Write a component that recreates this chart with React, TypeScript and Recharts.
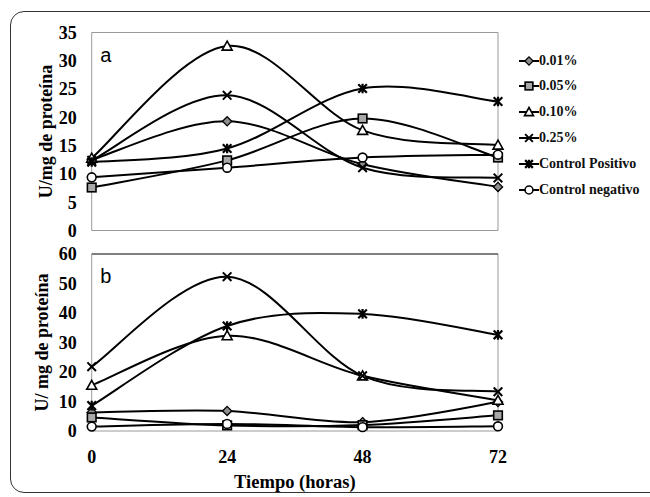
import React from 'react';
import { LineChart, Line, XAxis, YAxis, ReferenceArea, ReferenceLine, Legend } from 'recharts';

// ---- data ----
const times = [0, 24, 48, 72];
const seriesNames = ['0.01%', '0.05%', '0.10%', '0.25%', 'Control Positivo', 'Control negativo'];
const seriesKeys = ['s001', 's005', 's010', 's025', 'pos', 'neg'];
const seriesMarkers = ['diamond', 'square', 'triangle', 'x', 'star', 'circle'];

// panel a
const a001 = [12.5, 19.3, 11.7, 7.7];
const a005 = [7.6, 12.4, 19.8, 12.9];
const a010 = [12.8, 32.6, 17.7, 15.1];
const a025 = [12.4, 23.9, 11.1, 9.3];
const aPos = [12.1, 14.5, 25.1, 22.8];
const aNeg = [9.4, 11.1, 12.9, 13.4];

// panel b
const b001 = [6.3, 6.8, 3.0, 9.8];
const b005 = [4.6, 1.9, 2.0, 5.3];
const b010 = [15.5, 32.3, 18.7, 10.4];
const b025 = [21.8, 52.3, 18.7, 13.3];
const bPos = [8.6, 35.6, 39.7, 32.6];
const bNeg = [1.5, 2.4, 1.3, 1.6];

const aTicks = [0, 5, 10, 15, 20, 25, 30, 35];
const bTicks = [0, 10, 20, 30, 40, 50, 60];
const xTicks = [0, 24, 48, 72];

const aSeries = [a001, a005, a010, a025, aPos, aNeg];
const bSeries = [b001, b005, b010, b025, bPos, bNeg];

function buildRows(series: number[][]) {
  return times.map((t, i) => {
    const row: any = { t };
    seriesKeys.forEach((k, j) => {
      row[k] = series[j][i];
    });
    return row;
  });
}
const aRows = buildRows(aSeries);
const bRows = buildRows(bSeries);

// Excel-like smooth curve (Catmull-Rom as cubic Bezier)
function excelSmooth(context: any) {
  let pts: number[][] = [];
  return {
    areaStart() {},
    areaEnd() {},
    lineStart() {
      pts = [];
    },
    lineEnd() {
      const n = pts.length;
      if (n === 0) return;
      context.moveTo(pts[0][0], pts[0][1]);
      for (let i = 0; i < n - 1; i++) {
        const p0 = pts[i > 0 ? i - 1 : i];
        const p1 = pts[i];
        const p2 = pts[i + 1];
        const p3 = pts[i + 2 < n ? i + 2 : i + 1];
        context.bezierCurveTo(
          p1[0] + (p2[0] - p0[0]) / 6,
          p1[1] + (p2[1] - p0[1]) / 6,
          p2[0] - (p3[0] - p1[0]) / 6,
          p2[1] - (p3[1] - p1[1]) / 6,
          p2[0],
          p2[1]
        );
      }
    },
    point(x: number, y: number) {
      pts.push([+x, +y]);
    },
  };
}

const SERIF = '"Liberation Serif", "Times New Roman", serif';
const SANS = '"Liberation Sans", Arial, sans-serif';

function Marker({ kind, cx, cy, s = 1 }: { kind: string; cx: number; cy: number; s?: number }) {
  if (cx == null || cy == null || isNaN(cx) || isNaN(cy)) return null;
  switch (kind) {
    case 'diamond': {
      const r = 4.6 * s;
      return (
        <polygon
          points={`${cx},${cy - r} ${cx + r},${cy} ${cx},${cy + r} ${cx - r},${cy}`}
          fill="#8c8c8c"
          stroke="#000"
          strokeWidth={1.3}
        />
      );
    }
    case 'square': {
      const h = 4.3 * s;
      return <rect x={cx - h} y={cy - h} width={2 * h} height={2 * h} fill="#a8a8a8" stroke="#000" strokeWidth={1.6} />;
    }
    case 'triangle': {
      const r = 5 * s;
      return (
        <polygon
          points={`${cx},${cy - r} ${cx + r},${cy + r * 0.8} ${cx - r},${cy + r * 0.8}`}
          fill="#fff"
          stroke="#000"
          strokeWidth={1.6}
        />
      );
    }
    case 'x': {
      const r = 4.3 * s;
      return (
        <path
          d={`M${cx - r},${cy - r}L${cx + r},${cy + r}M${cx + r},${cy - r}L${cx - r},${cy + r}`}
          stroke="#000"
          strokeWidth={2}
          fill="none"
        />
      );
    }
    case 'star': {
      const r = 4.3 * s;
      return (
        <path
          d={`M${cx - r},${cy - r}L${cx + r},${cy + r}M${cx + r},${cy - r}L${cx - r},${cy + r}M${cx},${cy - r - 0.5}L${cx},${cy + r + 0.5}`}
          stroke="#000"
          strokeWidth={2.2}
          fill="none"
        />
      );
    }
    case 'circle':
    default:
      return <circle cx={cx} cy={cy} r={4.4 * s} fill="#fff" stroke="#000" strokeWidth={1.6} />;
  }
}

function makeDot(kind: string) {
  return (props: any) => (
    <g key={`${kind}-${props.index}`}>
      <Marker kind={kind} cx={props.cx} cy={props.cy} />
    </g>
  );
}

function yLabel(text: string, dx: number) {
  return (props: any) => {
    const vb = props.viewBox || {};
    const x = (vb.x || 0) + dx;
    const y = (vb.y || 0) + (vb.height || 0) / 2;
    return (
      <text
        x={x}
        y={y}
        transform={`rotate(-90, ${x}, ${y})`}
        textAnchor="middle"
        dominantBaseline="central"
        fontFamily={SERIF}
        fontWeight={700}
        fontSize={18}
        fill="#000"
      >
        {text}
      </text>
    );
  };
}

function panelLabel(text: string) {
  return (props: any) => {
    const vb = props.viewBox || {};
    return (
      <text x={(vb.x || 0) + 8.5} y={(vb.y || 0) + 29} fontFamily={SANS} fontSize={20} fill="#000">
        {text}
      </text>
    );
  };
}

function xLabel(text: string) {
  return (props: any) => {
    const vb = props.viewBox || {};
    return (
      <text
        x={(vb.x || 0) + (vb.width || 0) / 2}
        y={(vb.y || 0) + 56.5}
        textAnchor="middle"
        fontFamily={SERIF}
        fontWeight={700}
        fontSize={18.5}
        fill="#000"
      >
        {text}
      </text>
    );
  };
}

const legendContent = () => (
  <div style={{ width: 130 }}>
    {seriesNames.map((name, i) => (
      <div key={name} style={{ display: 'flex', alignItems: 'center', height: 25.8 }}>
        <svg width={20} height={14} style={{ display: 'block' }}>
          <line x1={0} y1={7} x2={20} y2={7} stroke="#000" strokeWidth={2} />
          <Marker kind={seriesMarkers[i]} cx={10} cy={7} s={0.9} />
        </svg>
        <span style={{ fontFamily: SERIF, fontWeight: 700, fontSize: 14, color: '#111', whiteSpace: 'nowrap' }}>
          {name}
        </span>
      </div>
    ))}
  </div>
);

const tickStyle = { fontFamily: SERIF, fontWeight: 700, fontSize: 18, fill: '#000' };
const xTickStyle = { fontFamily: SERIF, fontWeight: 700, fontSize: 18, fill: '#000' };

function renderLines() {
  return seriesKeys.map((k, i) => (
    <Line
      key={k}
      dataKey={k}
      name={seriesNames[i]}
      type={excelSmooth as any}
      stroke="#000"
      strokeWidth={2}
      dot={makeDot(seriesMarkers[i])}
      activeDot={false}
      isAnimationActive={false}
      legendType="none"
    />
  ));
}

export default function App() {
  return (
    <div
      style={{
        position: 'absolute',
        left: 0,
        top: 0,
        width: 650,
        height: 497,
        overflow: 'hidden',
        background: '#fff',
      }}
    >
      <div
        style={{
          position: 'absolute',
          left: 10,
          top: 11,
          width: 700,
          height: 480,
          border: '1.5px solid #333',
          borderRadius: 14,
        }}
      />
      <div style={{ position: 'absolute', left: 0, top: 0 }}>
        <LineChart width={650} height={250} data={aRows} margin={{ top: 32.5, right: 152, bottom: 19.5, left: 0 }}>
          <XAxis type="number" dataKey="t" domain={[0, 72]} ticks={xTicks} hide />
          <YAxis
            type="number"
            domain={[0, 35]}
            ticks={aTicks}
            interval={0}
            width={91.7}
            axisLine={false}
            tickLine={false}
            tickSize={0}
            tickMargin={15}
            tick={tickStyle}
            label={yLabel('U/mg de proteína', 46)}
          />
          <ReferenceArea
            x1={0}
            x2={72}
            y1={0}
            y2={35}
            fill="none"
            stroke="#9a9a9a"
            strokeWidth={1}
            label={panelLabel('a')}
          />
          {renderLines()}
          <Legend
            layout="vertical"
            align="center"
            verticalAlign="middle"
            content={legendContent}
            wrapperStyle={{ left: 519, top: 47.8, width: 130 }}
          />
        </LineChart>
      </div>
      <div style={{ position: 'absolute', left: 0, top: 240 }}>
        <LineChart width={650} height={257} data={bRows} margin={{ top: 14, right: 152, bottom: 0, left: 0 }}>
          <XAxis
            type="number"
            dataKey="t"
            domain={[0, 72]}
            ticks={xTicks}
            interval={0}
            height={66}
            axisLine={false}
            tickLine={false}
            tickSize={0}
            tickMargin={19}
            tick={xTickStyle}
            label={xLabel('Tiempo (horas)')}
          />
          <YAxis
            type="number"
            domain={[0, 60]}
            ticks={bTicks}
            interval={0}
            width={91.7}
            axisLine={false}
            tickLine={false}
            tickSize={0}
            tickMargin={15}
            tick={tickStyle}
            label={yLabel('U/ mg de proteína', 42)}
          />
          <ReferenceArea
            x1={0}
            x2={72}
            y1={0}
            y2={60}
            fill="none"
            stroke="#9a9a9a"
            strokeWidth={1}
            label={panelLabel('b')}
          />
          <ReferenceLine y={60} stroke="#333" strokeWidth={1.2} />
          {renderLines()}
        </LineChart>
      </div>
    </div>
  );
}
